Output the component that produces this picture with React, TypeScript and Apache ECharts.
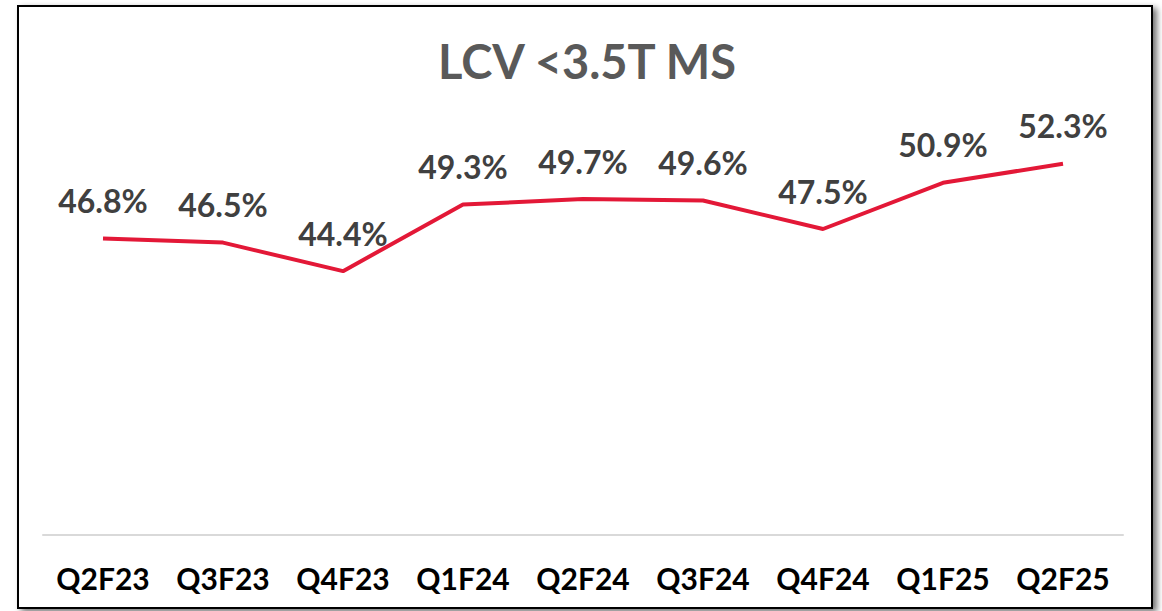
import React, { useEffect, useRef } from "react";
import * as echarts from "echarts";

const categories = ["Q2F23", "Q3F23", "Q4F23", "Q1F24", "Q2F24", "Q3F24", "Q4F24", "Q1F25", "Q2F25"];
const msValues = [46.8, 46.5, 44.4, 49.3, 49.7, 49.6, 47.5, 50.9, 52.3];
const titleText = "LCV <3.5T MS";

export default function App() {
  const ref = useRef<HTMLDivElement>(null);
  useEffect(() => {
    document.body.style.margin = "0";
    const chart = echarts.init(ref.current!, null, { renderer: "svg" });
    chart.setOption({
      animation: false,
      backgroundColor: "#ffffff",
      graphic: [
        {
          type: "rect",
          z: -10,
          shape: { x: 18, y: 6, width: 1134, height: 602 },
          style: {
            fill: "#ffffff",
            stroke: "#000000",
            lineWidth: 2,
            shadowColor: "rgba(0,0,0,0.55)",
            shadowBlur: 6,
            shadowOffsetX: 4,
            shadowOffsetY: 3,
          },
        },
      ],
      title: {
        text: titleText,
        left: 582,
        textAlign: "center",
        top: 32,
        textStyle: {
          fontFamily: "Lato",
          fontWeight: "bold",
          fontSize: 47,
          color: "#595959",
        },
      },
      grid: { left: 43, right: 39, top: 59, bottom: 76, containLabel: false },
      xAxis: {
        type: "category",
        data: categories,
        boundaryGap: true,
        axisLine: { show: true, lineStyle: { color: "#d9d9d9", width: 2 } },
        axisTick: { show: false },
        axisLabel: {
          interval: 0,
          margin: 28,
          fontFamily: "Lato",
          fontWeight: "bold",
          fontSize: 30,
          color: "#000000",
        },
      },
      yAxis: {
        type: "value",
        min: 25,
        max: 60,
        show: false,
        splitLine: { show: false },
      },
      series: [
        {
          type: "line",
          data: msValues,
          symbol: "circle",
          symbolSize: 2,
          showSymbol: true,
          itemStyle: { color: "rgba(0,0,0,0)" },
          lineStyle: { color: "#e31837", width: 4 },
          label: {
            show: true,
            position: "top",
            distance: 21,
            formatter: (p: any) => p.value.toFixed(1) + "%",
            fontFamily: "Lato",
            fontWeight: "bold",
            fontSize: 32,
            color: "#404040",
          },
        },
      ],
    });
    return () => chart.dispose();
  }, []);
  return <div ref={ref} style={{ width: 1162, height: 611 }} />;
}
